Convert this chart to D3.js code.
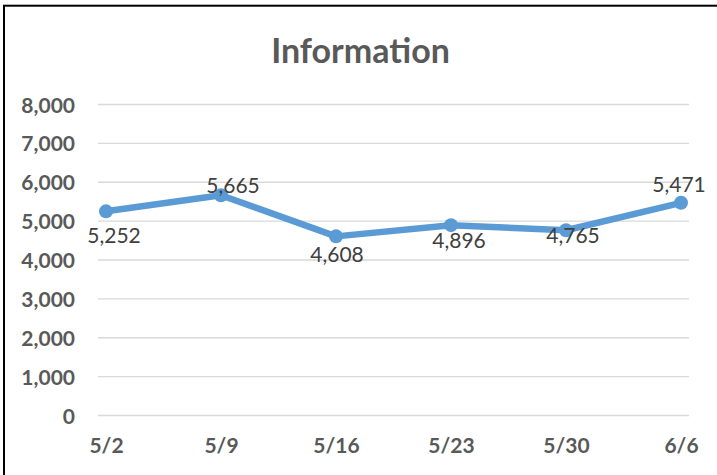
<!DOCTYPE html>
<html>
<head>
<meta charset="utf-8">
<script src="https://cdn.jsdelivr.net/npm/d3@7"></script>
<style>
html,body{margin:0;padding:0;background:#fff;}
svg{display:block;}
</style>
</head>
<body>
<svg id="chart" width="717" height="475"></svg>
<script>
const title = "Information";
const categories = ["5/2","5/9","5/16","5/23","5/30","6/6"];
const values = [5252, 5665, 4608, 4896, 4765, 5471];
const yTicks = [0,1000,2000,3000,4000,5000,6000,7000,8000];
// manual data-label placement (dx, dy from the point), as in the original
const labelOffsets = [[8,24],[12,-10],[1,18],[8,15],[7,5],[-2,-18]];

const svg = d3.select("#chart");
const font = "Lato, 'Open Sans', sans-serif";

svg.append("rect").attr("x",0).attr("y",0).attr("width",717).attr("height",475).attr("fill","#fff");
svg.append("rect").attr("x",4).attr("y",5.7).attr("width",900).attr("height",900)
  .attr("fill","none").attr("stroke","#000").attr("stroke-width",2);

const x = d3.scalePoint().domain(categories).range([106, 681]);
const y = d3.scaleLinear().domain([0, 8000]).range([415.5, 104.5]);

// gridlines
svg.append("g").selectAll("line").data(yTicks).join("line")
  .attr("x1",98).attr("x2",689)
  .attr("y1",d=>y(d)).attr("y2",d=>y(d))
  .attr("stroke","#d9d9d9").attr("stroke-width",1.3);

// y axis
const yAxis = d3.axisLeft(y).tickValues(yTicks).tickSize(0).tickPadding(0)
  .tickFormat(d3.format(","));
const gy = svg.append("g").attr("transform","translate(75,0)").call(yAxis);
gy.select(".domain").remove();
gy.selectAll("text").attr("font-family",font).attr("font-weight","bold")
  .attr("font-size","21px").attr("fill","#595959").attr("dy","0.36em");

// x axis
const xAxis = d3.axisBottom(x).tickSize(0).tickPadding(0);
const gx = svg.append("g").attr("transform","translate(0,453)").call(xAxis);
gx.select(".domain").remove();
gx.selectAll("text").attr("font-family",font).attr("font-weight","bold")
  .attr("font-size","21px").attr("fill","#595959").attr("dy","0");

// title
svg.append("text").attr("x",360.5).attr("y",62.5).attr("text-anchor","middle")
  .attr("font-family",font).attr("font-weight","bold").attr("font-size","34px")
  .attr("fill","#595959").text(title);

// line
const line = d3.line().x((d,i)=>x(categories[i])).y(d=>y(d));
svg.append("path").datum(values).attr("d",line)
  .attr("fill","none").attr("stroke","#5b9bd5").attr("stroke-width",6.5)
  .attr("stroke-linejoin","round").attr("stroke-linecap","round");

svg.append("g").selectAll("circle").data(values).join("circle")
  .attr("cx",(d,i)=>x(categories[i])).attr("cy",d=>y(d)).attr("r",7)
  .attr("fill","#5b9bd5");

// data labels
svg.append("g").selectAll("text").data(values).join("text")
  .attr("x",(d,i)=>x(categories[i]) + labelOffsets[i][0])
  .attr("y",(d,i)=>y(d) + labelOffsets[i][1])
  .attr("dy","0.36em").attr("text-anchor","middle")
  .attr("font-family",font).attr("font-size","21px").attr("fill","#404040")
  .text(d=>d3.format(",")(d));
</script>
</body>
</html>
